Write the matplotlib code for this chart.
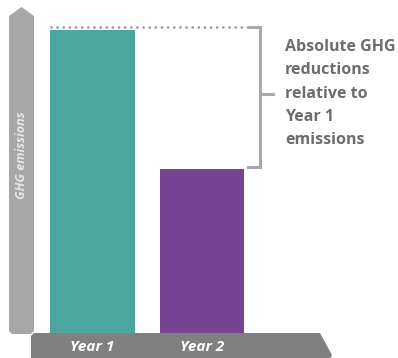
import matplotlib.pyplot as plt
from matplotlib.patches import Polygon

years = ['Year 1', 'Year 2']
emissions = [100, 54]
bar_colors = ['#4aa69e', '#764292']

W, H = 398, 358
fig = plt.figure(figsize=(W / 100, H / 100), dpi=100)

# background layer in pixel units for the arrow-shaped axes
bg = fig.add_axes([0, 0, 1, 1])
bg.set_xlim(0, W)
bg.set_ylim(H, 0)
bg.axis('off')

yarrow = Polygon([(9, 16), (21.5, 7), (34, 16), (34, 331), (31, 334),
                  (12, 334), (9, 331)], closed=True, color='#a7a7a7', lw=0)
bg.add_patch(yarrow)
xarrow = Polygon([(34, 333), (320, 333), (332, 355), (320, 377),
                  (31, 377), (31, 336)], closed=True, color='#808080', lw=0)
bg.add_patch(xarrow)
bg.text(22, 155, 'GHG emissions', rotation=90, ha='center', va='center',
        color='#e6e6e6', fontsize=9, fontweight='bold', style='italic',
        family='Open Sans')

# bar layer
ax = fig.add_axes([0, 25 / H, 1, 333 / H])
ax.patch.set_alpha(0)
ax.set_xlim(-0.845, 2.79)
ax.set_ylim(0, 109.9)
ax.axis('off')

x = range(len(years))
ax.bar(x, emissions, width=0.776, color=bar_colors)

for i, label in enumerate(years):
    ax.text(i, -0.042, label, transform=ax.get_xaxis_transform(),
            ha='center', va='center', color='white', fontsize=11,
            fontweight='bold', style='italic', family='Open Sans')

# dotted reference just above the Year 1 level
ax.plot([-0.38, 1.44], [emissions[0] + 1.0, emissions[0] + 1.0], color='#999999',
        lw=2.0, linestyle=(0, (0.01, 2.2)), dash_capstyle='round', clip_on=False)

# bracket spanning the reduction
gray = '#a9a9a9'
xb = 1.53
ax.plot([1.44, xb, xb, 1.42], [emissions[0] + 1.0, emissions[0] + 1.0,
                               emissions[1] + 0.7, emissions[1] + 0.7],
        color=gray, lw=2.2, solid_joinstyle='miter', clip_on=False)
mid = (emissions[0] + emissions[1]) / 2
ax.plot([xb, 1.648], [mid + 2, mid + 2], color=gray, lw=2.2, clip_on=False)

ax.text(1.758, mid + 2, 'Absolute GHG\nreductions\nrelative to\nYear 1\nemissions',
        ha='left', va='center', color='#6d6d6d', fontsize=11.5,
        fontweight='bold', linespacing=1.6, family='Open Sans')

fig.savefig('out.png', dpi=100)
